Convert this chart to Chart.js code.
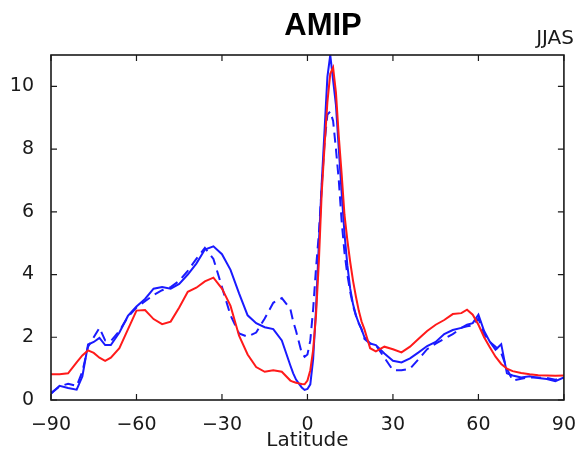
<!DOCTYPE html>
<html>
<head>
<meta charset="utf-8">
<script src="https://cdn.jsdelivr.net/npm/chart.js@4.4.1/dist/chart.umd.min.js"></script>
<style>
  html, body { margin: 0; padding: 0; background: #fff; }
  #wrap { width: 582px; height: 457px; }
</style>
</head>
<body>
<div id="wrap"><canvas id="chart"></canvas></div>
<script>
// ── Data ──────────────────────────────────────────────────────────────────────
const LATITUDES = [
  -90, -87, -84, -81, -79, -77, -75, -73, -71, -69, -66, -63, -60, -57, -54,
  -51, -48, -45, -42, -39, -36, -33, -30, -27, -24, -21, -18, -15, -12, -9,
  -6, -5, -4, -3, -2, -1, 0, 1, 2, 3, 4, 5, 6, 7, 8, 9, 10, 11, 12, 13, 14,
  15, 16, 17, 18, 19, 20,
  22, 24, 27, 30, 33, 36, 39, 42, 45, 48, 51, 54, 56, 58, 60, 62, 64, 66,
  68, 70, 72, 75, 78, 81, 84, 87, 90
];

const RED_SOLID = [
  0.82, 0.82, 0.85, 1.20, 1.42, 1.58, 1.50, 1.35, 1.25, 1.35, 1.65, 2.25, 2.85, 2.87, 2.58,
  2.42, 2.50, 2.95, 3.45, 3.58, 3.78, 3.90, 3.55, 3.00, 2.05, 1.45, 1.05, 0.90, 0.95, 0.90,
  0.62, 0.58, 0.55, 0.53, 0.51, 0.50, 0.62, 0.95, 1.60, 2.70, 4.40, 6.60, 8.10, 9.50, 10.40, 10.60, 9.80, 8.40, 7.20, 5.90, 5.10,
  4.40, 3.80, 3.30, 2.85, 2.50, 2.25,
  1.65, 1.55, 1.70, 1.62, 1.52, 1.70, 1.95, 2.20, 2.40, 2.55, 2.74, 2.77, 2.88, 2.72, 2.40, 2.00, 1.68, 1.38,
  1.15, 1.00, 0.92, 0.86, 0.82, 0.79, 0.78, 0.77, 0.78
];

const BLUE_SOLID = [
  0.20, 0.45, 0.38, 0.33, 0.75, 1.77, 1.85, 1.98, 1.75, 1.75, 2.15, 2.68, 2.98, 3.22, 3.55,
  3.60, 3.55, 3.70, 4.00, 4.35, 4.80, 4.90, 4.65, 4.15, 3.40, 2.70, 2.45, 2.32, 2.26, 1.90,
  1.10, 0.85, 0.65, 0.52, 0.40, 0.32, 0.35, 0.50, 1.30, 2.90, 5.00, 6.90, 8.60, 10.30, 11.00, 10.20, 9.40, 8.00, 6.60, 5.30, 4.30,
  3.55, 3.05, 2.70, 2.45, 2.25, 2.00,
  1.80, 1.75, 1.48, 1.25, 1.20, 1.33, 1.52, 1.72, 1.85, 2.10, 2.23, 2.30, 2.40, 2.45, 2.72, 2.20, 1.86, 1.60,
  1.78, 0.85, 0.78, 0.72, 0.76, 0.70, 0.67, 0.60, 0.72
];

const BLUE_DASHED = [
  0.22, 0.43, 0.52, 0.45, 0.90, 1.70, 2.00, 2.30, 1.90, 1.88, 2.20, 2.65, 2.95, 3.15, 3.35,
  3.50, 3.60, 3.80, 4.12, 4.50, 4.85, 4.50, 3.60, 2.70, 2.12, 2.02, 2.15, 2.60, 3.10, 3.25,
  2.90, 2.50, 2.20, 1.85, 1.50, 1.38, 1.45, 1.90, 2.90, 4.20, 5.30, 6.80, 8.20, 9.10, 9.20, 8.90, 8.00, 7.00, 5.70, 4.70, 4.00,
  3.45, 3.00, 2.70, 2.45, 2.25, 1.95,
  1.80, 1.75, 1.35, 0.95, 0.95, 1.00, 1.30, 1.62, 1.80, 1.95, 2.10, 2.30, 2.35, 2.38, 2.60, 2.10, 1.85, 1.70,
  1.50, 1.00, 0.62, 0.68, 0.72, 0.72, 0.70, 0.65, 0.70
];

const X_TICKS = [-90, -60, -30, 0, 30, 60, 90];
const Y_TICKS = [0, 2, 4, 6, 8, 10];

// ── Style ─────────────────────────────────────────────────────────────────────
const FONT = 'DejaVu Sans, sans-serif';
const INK = '#1a1a1a';
const RED = '#ff1a1a';
const BLUE = '#1a1aff';

function points(vals) {
  return LATITUDES.map((x, i) => ({ x, y: vals[i] }));
}

function minus(v) { return String(v).replace('-', '\u2212'); }

// frame, inward ticks on all four sides, title texts
const framePlugin = {
  id: 'frame',
  afterDatasetsDraw(chart) {
    const { ctx, chartArea: a, scales: { x, y } } = chart;
    const len = 6;
    ctx.save();
    ctx.strokeStyle = INK;
    ctx.lineWidth = 1.2;
    ctx.beginPath();
    X_TICKS.forEach(v => {
      const px = x.getPixelForValue(v);
      ctx.moveTo(px, a.bottom); ctx.lineTo(px, a.bottom - len);
      ctx.moveTo(px, a.top); ctx.lineTo(px, a.top + len);
    });
    Y_TICKS.forEach(v => {
      const py = y.getPixelForValue(v);
      ctx.moveTo(a.left, py); ctx.lineTo(a.left + len, py);
      ctx.moveTo(a.right, py); ctx.lineTo(a.right - len, py);
    });
    ctx.stroke();
    ctx.lineWidth = 1.6;
    ctx.strokeRect(a.left, a.top, a.right - a.left, a.bottom - a.top);

    ctx.fillStyle = '#000';
    ctx.textAlign = 'center';
    ctx.textBaseline = 'alphabetic';
    ctx.font = 'bold 31px "Liberation Sans", Arial, sans-serif';
    ctx.fillText('AMIP', 323, 35);
    ctx.fillStyle = INK;
    ctx.textAlign = 'right';
    ctx.font = '20px ' + FONT;
    ctx.fillText('JJAS', 574, 44);
    ctx.restore();
  }
};

new Chart(document.getElementById('chart'), {
  type: 'line',
  data: {
    datasets: [
      { data: points(RED_SOLID), borderColor: RED, borderWidth: 2 },
      { data: points(BLUE_SOLID), borderColor: BLUE, borderWidth: 2 },
      { data: points(BLUE_DASHED), borderColor: BLUE, borderWidth: 2, borderDash: [10, 6] }
    ]
  },
  options: {
    responsive: true,
    maintainAspectRatio: false,
    animation: false,
    layout: { padding: { left: 0, right: 13, top: 55, bottom: 0 } },
    elements: { point: { radius: 0 }, line: { tension: 0, fill: false } },
    plugins: { legend: { display: false }, tooltip: { enabled: false }, title: { display: false } },
    scales: {
      x: {
        type: 'linear',
        min: -90,
        max: 90,
        grid: { display: false },
        border: { display: false },
        afterBuildTicks: s => { s.ticks = X_TICKS.map(value => ({ value })); },
        afterFit: s => { s.height = 57; },
        ticks: {
          autoSkip: false,
          maxRotation: 0,
          padding: 6,
          color: INK,
          font: { family: FONT, size: 19 },
          callback: v => minus(v)
        },
        title: {
          display: true,
          text: 'Latitude',
          color: INK,
          font: { family: FONT, size: 20 },
          padding: { top: 0, bottom: 4 }
        }
      },
      y: {
        type: 'linear',
        min: 0,
        max: 11,
        grid: { display: false },
        border: { display: false },
        afterBuildTicks: s => { s.ticks = Y_TICKS.map(value => ({ value })); },
        afterFit: s => { s.width = 51; },
        ticks: {
          padding: 9,
          color: INK,
          font: { family: FONT, size: 19 },
          callback: v => minus(v)
        }
      }
    }
  },
  plugins: [framePlugin]
});
</script>
</body>
</html>
